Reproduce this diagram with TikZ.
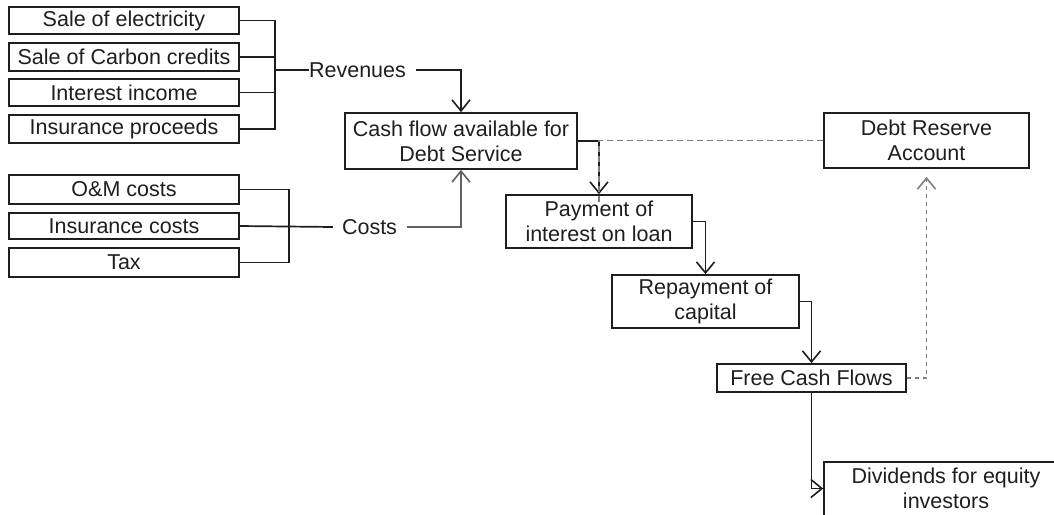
\documentclass[tikz,border=0pt]{standalone}
\usepackage{fontspec}
\setmainfont{Liberation Sans}
\usetikzlibrary{arrows.meta,calc}
\definecolor{ink}{RGB}{30,30,30}
\definecolor{dgray}{RGB}{125,125,125}
\begin{document}
\begin{tikzpicture}[x=1pt,y=-1pt,
  font=\fontsize{21.5}{25}\selectfont,
  every node/.style={text=ink},
  box/.style={draw=ink,line width=1.7pt,inner sep=0pt,align=center,minimum width=#1},
  box/.default=230pt,
  lbl/.style={inner sep=0pt},
  conn/.style={draw=ink,line width=1.7pt},
  tip/.style={-{Straight Barb[length=11pt,width=18pt,line width=1.6pt]}},
  arr/.style={conn,tip},
  dsh/.style={draw=dgray,line width=1.7pt,dash pattern=on 6pt off 4pt},
]
\useasboundingbox (0,0) rectangle (1054,514);
\clip (0,0) rectangle (1054,514);

% revenue boxes
\node[box,minimum height=27pt] (e1) at (124,20.5) {Sale of electricity};
\node[box,minimum height=28pt] (e2) at (124,57) {Sale of Carbon credits};
\node[box,minimum height=27pt] (e3) at (124,92.5) {Interest income};
\node[box,minimum height=28pt] (e4) at (124,129) {Insurance proceeds};

% cost boxes
\node[box,minimum height=29pt] (c1) at (124,189.5) {O\&M costs};
\node[box,minimum height=26pt] (c2) at (124,226) {Insurance costs};
\node[box,minimum height=29pt] (c3) at (124,262.5) {Tax};

% labels
\node[lbl] (rev) at (357.5,70) {Revenues};
\node[lbl] (costs) at (369.5,227) {Costs};

% flow boxes
\node[box=232pt,minimum height=56pt] (cf) at (461,141) {Cash flow available for\\Debt Service};
\node[box=186pt,minimum height=53pt] (pay) at (599,221.5) {Payment of\\interest on loan};
\node[box=187pt,minimum height=53pt] (rep) at (705.5,301.5) {Repayment of\\capital};
\node[box=189pt,minimum height=28pt] (fcf) at (811.5,378) {Free Cash Flows};
\node[box=205pt,minimum height=55pt] (dra) at (926.5,140.5) {Debt Reserve\\Account};
\node[box=244pt,minimum height=60pt] (div) at (946,492) {};
\node[lbl,align=center] (divt) at (946,488.5) {Dividends for equity\\investors};

% revenue bracket
\coordinate (rj) at (274,70);
\draw[conn] (e1.east) -- ++(35,0) |- (e4.east);
\draw[conn] (e2.east) -- ++(35,0);
\draw[conn] (e3.east) -- ++(35,0);
\draw[conn] (rj) -- (rev.west);

% cost bracket
\draw[conn] (c1.east) -- ++(49,0) |- (c3.east);
\draw[conn] (c2.east) -- ([xshift=-9pt]costs.west);

% main flow
\draw[arr] ([xshift=10pt]rev.east) -| (cf.north);
\draw[arr,draw=dgray!70!ink] ([xshift=10pt]costs.east) -| (cf.south);
\draw[arr] (cf.east) -| (pay.north);
\draw[dsh] (dra.west) -| ([yshift=-10pt]pay.north);
\draw[arr] (pay.east) -| (rep.north);
\draw[arr] (rep.east) -| (fcf.north);
\draw[dsh,dash pattern=on 4pt off 4pt,shorten >=8pt,tip] (fcf.east) -| (dra.south);
\draw[arr] (fcf.south) |- (div.west |- divt.center);
\end{tikzpicture}
\end{document}
